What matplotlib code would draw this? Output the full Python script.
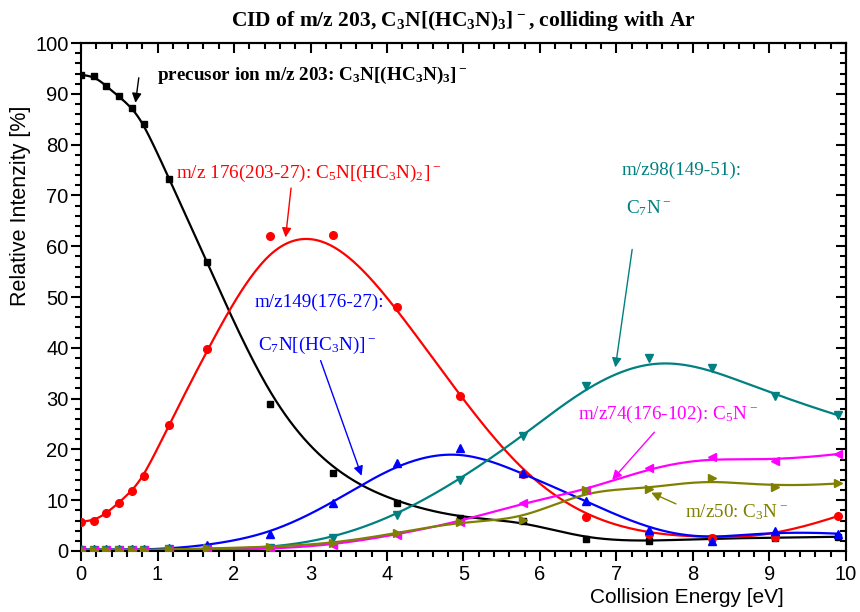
import numpy as np
import matplotlib.pyplot as plt
from matplotlib.ticker import MultipleLocator

plt.rcParams['font.family'] = 'Liberation Sans'
plt.rcParams['mathtext.default'] = 'regular'
plt.rcParams['axes.linewidth'] = 1.5

# collision energies [eV]
energy = [0, 0.165, 0.33, 0.495, 0.66, 0.825, 1.155, 1.65, 2.475, 3.3,
          4.125, 4.95, 5.775, 6.6, 7.425, 8.25, 9.075, 9.9]

# relative intensities [%]
m203 = [93.7, 93.6, 91.5, 89.5, 87.3, 84.0, 73.2, 56.8, 29.0, 15.3,
        9.5, 6.5, 5.9, 2.3, 1.9, 2.5, 2.6, 2.8]
m176 = [5.8, 5.9, 7.4, 9.5, 11.8, 14.8, 24.9, 39.7, 62.0, 62.3,
        48.0, 30.5, 15.1, 6.6, 3.3, 2.6, 2.8, 6.9]
m149 = [0.3, 0.3, 0.3, 0.3, 0.3, 0.3, 0.5, 1.1, 3.3, 9.5,
        17.3, 20.2, 15.3, 9.8, 4.2, 2.0, 4.0, 3.4]
m98 = [0.2, 0.2, 0.2, 0.2, 0.2, 0.2, 0.3, 0.4, 0.6, 2.5,
       7.0, 14.0, 22.6, 32.4, 37.9, 36.1, 30.6, 26.7]
m74 = [0.1, 0.1, 0.1, 0.1, 0.1, 0.1, 0.1, 0.2, 0.4, 1.2,
       3.2, 5.8, 9.4, 12.0, 16.3, 18.6, 17.7, 19.1]
m50 = [0.2, 0.2, 0.2, 0.2, 0.2, 0.2, 0.3, 0.5, 0.8, 1.5,
       3.5, 5.8, 6.1, 12.1, 12.2, 14.4, 12.5, 13.3]

c_black = "#000000"
c_red = "#ff0000"
c_blue = "#0000ff"
c_teal = "#008080"
c_mag = "#ff00ff"
c_olive = "#808000"


def bspline_curve(x, y, k=3, npts=600):
    # Origin-style "B-spline" connection: the points are control points
    # of a clamped uniform cubic B-spline
    P = np.column_stack([x, y]).astype(float)
    n = len(P)
    inner = np.arange(1, n - k)
    knots = np.concatenate([np.zeros(k + 1), inner, np.full(k + 1, n - k)]).astype(float)
    t = np.linspace(0, n - k, npts)
    t[-1] -= 1e-9
    # degree-0 basis
    B = np.zeros((npts, len(knots) - 1))
    for i in range(len(knots) - 1):
        B[:, i] = (t >= knots[i]) & (t < knots[i + 1])
    for d in range(1, k + 1):
        Bn = np.zeros((npts, len(knots) - 1 - d))
        for i in range(len(knots) - 1 - d):
            a = knots[i + d] - knots[i]
            b = knots[i + d + 1] - knots[i + 1]
            term = 0.0
            if a > 0:
                term = term + (t - knots[i]) / a * B[:, i]
            if b > 0:
                term = term + (knots[i + d + 1] - t) / b * B[:, i + 1]
            Bn[:, i] = term
        B = Bn
    C = B @ P
    return C[:, 0], C[:, 1]


fig = plt.figure(figsize=(8.6, 6.12), dpi=100)
ax = fig.add_axes([0.0942, 0.0997, 0.8895, 0.830])

series = [
    (m203, c_black, 's', 5),
    (m176, c_red, 'o', 5.5),
    (m149, c_blue, '^', 6),
    (m98, c_teal, 'v', 6),
    (m74, c_mag, '<', 6),
    (m50, c_olive, '>', 6),
]
for vals, col, mk, ms in series:
    gx, gy = bspline_curve(energy, vals)
    ax.plot(gx, gy, '-', color=col, lw=1.6, zorder=2)
    ax.plot(energy, vals, mk, color=col, ms=ms, ls='none', zorder=3)

ax.set_xlim(0, 10)
ax.set_ylim(0, 100)
ax.xaxis.set_major_locator(MultipleLocator(1))
ax.xaxis.set_minor_locator(MultipleLocator(0.2))
ax.yaxis.set_major_locator(MultipleLocator(10))
ax.yaxis.set_minor_locator(MultipleLocator(2))
ax.tick_params(which='both', direction='out', width=1.5, labelsize=14.5)
ax.tick_params(which='major', length=7)
ax.tick_params(which='minor', length=4)
ax.tick_params(axis='x', which='major', pad=3)
ax.tick_params(axis='y', which='major', pad=2)

# mirrored ticks on top/right pointing inwards
top = ax.secondary_xaxis('top')
top.xaxis.set_major_locator(MultipleLocator(1))
top.xaxis.set_minor_locator(MultipleLocator(0.2))
top.tick_params(which='both', direction='in', width=1.5, labeltop=False)
top.tick_params(which='major', length=7)
top.tick_params(which='minor', length=4)
right = ax.secondary_yaxis('right')
right.yaxis.set_major_locator(MultipleLocator(10))
right.yaxis.set_minor_locator(MultipleLocator(2))
right.tick_params(which='both', direction='in', width=1.5, labelright=False)
right.tick_params(which='major', length=7)
right.tick_params(which='minor', length=4)

ax.set_xlabel("Collision Energy [eV]", fontsize=15)
ax.xaxis.set_label_coords(0.792, -0.0735)
ax.set_ylabel("Relative Intenzity [%]", fontsize=15.5)
ax.yaxis.set_label_coords(-0.066, 0.68)

serif = 'Liberation Serif'

ax.set_title(r"CID of m/z 203, C$_3$N[(HC$_3$N)$_3$]$^-$, colliding with Ar",
             fontsize=15.5, fontweight='bold', family=serif, pad=12)

# annotations
ax.text(0.99, 93.7, r"precusor ion m/z 203: C$_3$N[(HC$_3$N)$_3$]$^-$",
        ha='left', va='center', fontsize=13.8, fontweight='bold', family=serif, color=c_black)
ax.annotate("", xy=(0.707, 87.7), xytext=(0.76, 93.7),
            arrowprops=dict(arrowstyle='-|>', color=c_black, lw=1, mutation_scale=14))

ax.text(1.24, 74.4, r"m/z 176(203-27): C$_5$N[(HC$_3$N)$_2$]$^-$", ha='left', va='center',
        fontsize=13.8, family=serif, color=c_red)
ax.annotate("", xy=(2.67, 61.2), xytext=(2.75, 72.0),
            arrowprops=dict(arrowstyle='-|>', color=c_red, lw=1, mutation_scale=14))

ax.text(2.27, 49.0, "m/z149(176-27):", ha='left', va='center',
        fontsize=13.8, family=serif, color=c_blue)
ax.text(2.31, 40.5, r"C$_7$N[(HC$_3$N)]$^-$", ha='left', va='center',
        fontsize=13.8, family=serif, color=c_blue)
ax.annotate("", xy=(3.68, 14.3), xytext=(3.12, 38.0),
            arrowprops=dict(arrowstyle='-|>', color=c_blue, lw=1, mutation_scale=14))

ax.text(7.07, 75.0, "m/z98(149-51):", ha='left', va='center',
        fontsize=13.8, family=serif, color=c_teal)
ax.text(7.13, 67.5, r"C$_7$N$^-$", ha='left', va='center',
        fontsize=13.8, family=serif, color=c_teal)
ax.annotate("", xy=(6.98, 35.6), xytext=(7.21, 59.9),
            arrowprops=dict(arrowstyle='-|>', color=c_teal, lw=1, mutation_scale=14))

ax.text(6.5, 26.8, r"m/z74(176-102): C$_5$N$^-$", ha='left', va='center',
        fontsize=13.8, family=serif, color=c_mag)
ax.annotate("", xy=(6.92, 13.6), xytext=(7.52, 23.8),
            arrowprops=dict(arrowstyle='-|>', color=c_mag, lw=1, mutation_scale=14))

ax.text(7.9, 7.7, r"m/z50: C$_3$N$^-$", ha='left', va='center',
        fontsize=13.8, family=serif, color=c_olive)
ax.annotate("", xy=(7.42, 11.7), xytext=(7.81, 9.05),
            arrowprops=dict(arrowstyle='-|>', color=c_olive, lw=1, mutation_scale=14))

fig.savefig("out.png", dpi=100)
